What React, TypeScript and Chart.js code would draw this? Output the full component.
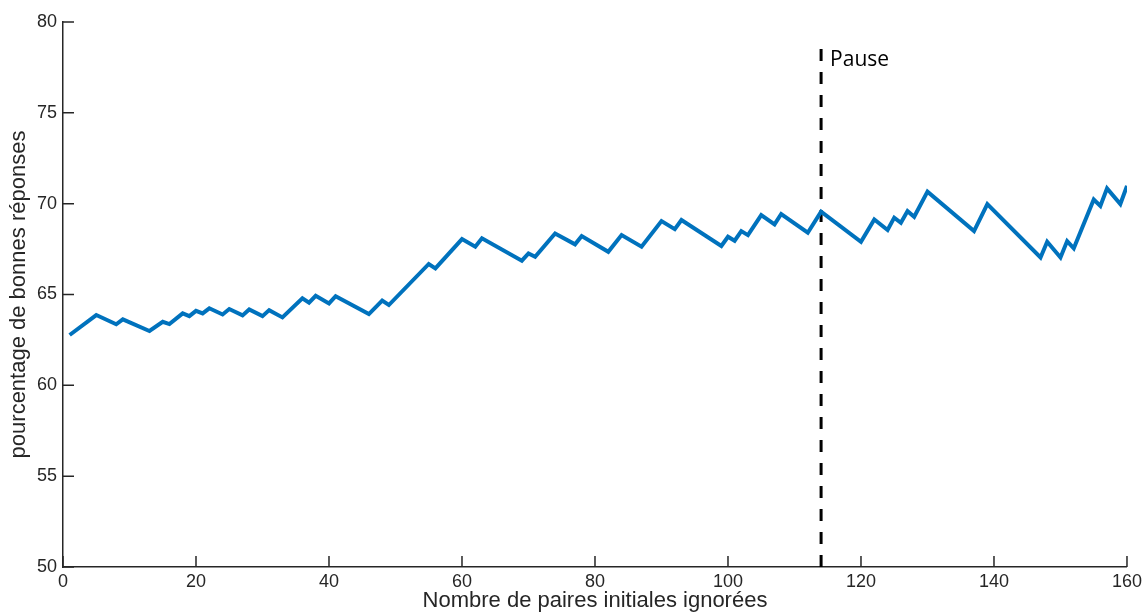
import React, { useEffect, useRef } from "react";
import { Chart, registerables } from "chart.js";

Chart.register(...registerables);

const xValues = [1, 5, 8, 9, 13, 15, 16, 18, 19, 20, 21, 22, 24, 25, 27, 28, 30, 31, 33, 36, 37, 38, 40, 41, 46, 48, 49, 55, 56, 60, 62, 63, 69, 70, 71, 74, 77, 78, 82, 84, 87, 90, 92, 93, 99, 100, 101, 102, 103, 105, 107, 108, 112, 114, 120, 122, 124, 125, 126, 127, 128, 130, 137, 139, 147, 148, 150, 151, 152, 155, 156, 157, 159, 160];
const yValues = [62.77, 63.87, 63.36, 63.63, 62.99, 63.5, 63.37, 63.96, 63.81, 64.1, 63.96, 64.24, 63.9, 64.2, 63.85, 64.18, 63.81, 64.14, 63.74, 64.79, 64.55, 64.93, 64.51, 64.91, 63.92, 64.66, 64.42, 66.68, 66.44, 68.05, 67.63, 68.09, 66.86, 67.26, 67.08, 68.36, 67.76, 68.22, 67.35, 68.27, 67.63, 69.04, 68.6, 69.1, 67.67, 68.18, 67.96, 68.49, 68.27, 69.37, 68.86, 69.43, 68.4, 69.56, 67.9, 69.13, 68.55, 69.23, 68.95, 69.59, 69.28, 70.66, 68.49, 69.98, 67.04, 67.9, 67.04, 67.94, 67.54, 70.23, 69.87, 70.84, 69.98, 70.98];
const pauseX = [114, 114];
const pauseY = [50, 79];
const pauseLabel = "Pause";
const xTickValues = [0, 20, 40, 60, 80, 100, 120, 140, 160];
const yTickValues = [50, 55, 60, 65, 70, 75, 80];
const xTitle = "Nombre de paires initiales ignorées";
const yTitle = "pourcentage de bonnes réponses";

const axisColor = "#262626";
const tickFont = { family: "'Liberation Sans', Arial, sans-serif", size: 18 };
const titleFont = { family: "'Liberation Sans', Arial, sans-serif", size: 22 };

const innerTicks = {
  id: "innerTicks",
  afterDraw(chart: any) {
    const ctx = chart.ctx;
    const xs = chart.scales.x;
    const ys = chart.scales.y;
    const area = chart.chartArea;
    ctx.save();
    ctx.strokeStyle = axisColor;
    ctx.lineWidth = 1.5;
    ctx.beginPath();
    xTickValues.forEach((v) => {
      const px = xs.getPixelForValue(v);
      ctx.moveTo(px, area.bottom);
      ctx.lineTo(px, area.bottom - 11);
    });
    yTickValues.forEach((v) => {
      const py = ys.getPixelForValue(v);
      ctx.moveTo(area.left, py);
      ctx.lineTo(area.left + 11, py);
    });
    ctx.stroke();
    ctx.fillStyle = "#000";
    ctx.font = "21px 'Open Sans', 'Noto Sans', sans-serif";
    ctx.textBaseline = "middle";
    ctx.textAlign = "left";
    ctx.fillText(pauseLabel, xs.getPixelForValue(pauseX[0]) + 9, ys.getPixelForValue(77.9));
    ctx.restore();
  },
};

export default function App() {
  const ref = useRef<HTMLCanvasElement | null>(null);
  useEffect(() => {
    if (!ref.current) return;
    const chart = new Chart(ref.current, {
      type: "line",
      data: {
        datasets: [
          {
            data: xValues.map((x, i) => ({ x, y: yValues[i] })),
            borderColor: "#0072BD",
            borderWidth: 4,
            pointRadius: 0,
            tension: 0,
            fill: false,
          },
          {
            data: pauseX.map((x, i) => ({ x, y: pauseY[i] })),
            borderColor: "#000000",
            borderWidth: 3,
            borderDash: [12, 11],
            pointRadius: 0,
            fill: false,
          },
        ],
      },
      options: {
        animation: false,
        responsive: false,
        maintainAspectRatio: false,
        layout: { padding: { left: 0, top: 22, right: 19, bottom: 0 } },
        plugins: { legend: { display: false }, tooltip: { enabled: false } },
        scales: {
          x: {
            type: "linear",
            min: 0,
            max: 160,
            afterBuildTicks: (s: any) => {
              s.ticks = xTickValues.map((v) => ({ value: v }));
            },
            afterFit: (s: any) => {
              s.height = 49;
            },
            grid: { display: false, drawTicks: false },
            border: { display: true, color: axisColor, width: 1.5 },
            ticks: { color: axisColor, font: tickFont, padding: 4, maxRotation: 0 },
            title: {
              display: true,
              text: xTitle,
              color: axisColor,
              font: titleFont,
              padding: { top: 0, bottom: 2 },
            },
          },
          y: {
            type: "linear",
            min: 50,
            max: 80,
            afterBuildTicks: (s: any) => {
              s.ticks = yTickValues.map((v) => ({ value: v }));
            },
            afterFit: (s: any) => {
              s.width = 63;
            },
            grid: { display: false, drawTicks: false },
            border: { display: true, color: axisColor, width: 1.5 },
            ticks: { color: axisColor, font: tickFont, padding: 6 },
            title: {
              display: true,
              text: yTitle,
              color: axisColor,
              font: titleFont,
              padding: { top: 6, bottom: 0 },
            },
          },
        },
      },
      plugins: [innerTicks],
    });
    return () => chart.destroy();
  }, []);
  return (
    <div style={{ position: "absolute", left: 0, top: 0, width: 1146, height: 616, background: "#fff" }}>
      <canvas ref={ref} width={1146} height={616} style={{ display: "block" }} />
    </div>
  );
}
